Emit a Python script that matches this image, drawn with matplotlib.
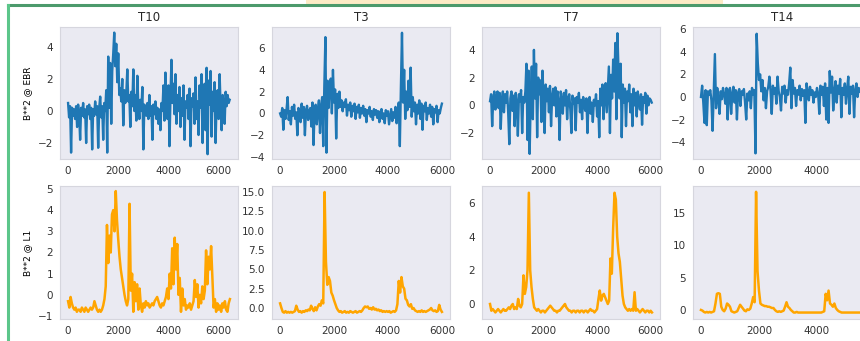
import numpy as np
import matplotlib
matplotlib.use("Agg")
import matplotlib.pyplot as plt
from matplotlib.patches import Rectangle
from matplotlib.lines import Line2D

TITLES = ["T10", "T3", "T7", "T14"]
ROW_LABELS = ["B**2 @ EBR", "B**2 @ L1"]
STEP_EBR = 40
STEP_L1 = 50

t10_ebr = [
    0.5, -0.4, 0.3, -2.6, 0.2, -0.3, 0.1, -0.5, 0.3, -1.0,
    0.4, -0.2, -1.8, 0.2, -0.3, 0.5, -0.4, 0.1, -2.0, 0.3,
    -0.2, 0.4, -0.5, 0.2, -2.4, 0.1, -0.3, 0.6, -0.2, 0.3,
    -2.3, 0.2, 0.9, -0.4, 0.3, -1.8, 0.5, 0.0, 1.3, -2.6,
    3.4, 0.2, 3.0, -0.8, 2.5, 3.6, 4.9, 2.8, 4.2, 1.8,
    3.6, 1.0, 1.4, 0.6, 2.0, -0.9, 1.3, 0.5, 1.1, 2.6,
    0.6, 1.0, -1.0, 1.2, 0.3, 2.6, 0.0, 1.0, -0.6, 2.2,
    0.3, -0.5, 0.7, 0.0, 1.5, -2.4, 0.4, 0.0, -0.3, 0.5,
    -0.5, 1.0, -0.3, 0.3, -1.8, 0.4, -0.2, 0.6, -0.5, 0.2,
    -0.8, 0.1, -1.2, 0.5, 0.0, 1.6, -0.6, 2.4, 0.2, -0.5,
    1.6, -2.2, 0.8, 3.2, 0.5, 1.7, -0.2, 2.3, -0.8, 1.0,
    0.0, 1.5, -1.0, 0.8, -0.3, 1.6, -1.8, 0.6, 0.2, 1.0,
    -0.5, 1.4, -2.2, 0.8, 0.3, 1.1, -0.8, 2.1, -0.5, 0.6,
    -1.5, 1.6, 0.2, 2.3, -2.0, 0.8, 1.7, -1.2, 2.7, -2.7,
    1.9, 0.4, 2.5, -1.6, 1.2, 0.0, 1.8, -2.0, 0.7, 1.3,
    -0.5, 2.3, 0.2, -1.2, 1.0, 0.4, -0.8, 1.2, 0.3, 1.0, 0.5, 0.7,
]
t3_ebr = [
    0.0, -0.3, 0.5, -1.5, 0.3, -0.5, 0.4, 1.5, -0.6, 0.2,
    -1.0, 0.6, -0.2, 0.8, -0.5, 0.1, -2.0, 0.5, 0.2, -0.8,
    0.9, -0.4, 0.6, -2.0, 0.3, 0.7, -0.6, 0.2, 0.5, -1.2,
    1.0, -2.9, 0.4, 0.8, -1.0, 0.3, 1.2, -1.8, 0.6, 1.5,
    -3.0, 2.5, 7.0, -3.6, 3.0, 0.5, 2.6, 3.2, 0.0, 4.0,
    1.0, 2.2, -2.3, 1.8, 0.5, 2.0, 0.6, 1.2, 0.2, 1.0,
    0.6, 1.3, -0.2, 0.8, 0.3, 1.0, -0.3, 0.7, 0.2, 0.9,
    -0.5, 0.6, 0.1, 0.8, -0.4, 0.5, 0.0, 0.7, -0.2, 0.4,
    -0.8, 0.3, 0.0, 0.6, -0.3, 0.2, -0.6, 0.4, -0.1, 0.3,
    -0.4, 0.2, -0.8, 0.1, 0.4, -0.5, 0.0, -0.9, 0.3, -0.2,
    0.2, -1.0, -0.3, 0.4, -0.7, 0.1, -0.4, 0.6, -0.9, 0.0,
    1.0, -3.0, 2.5, 7.4, 1.0, 4.0, -0.5, 2.0, 0.3, 3.0,
    0.6, 4.2, -0.3, 1.5, 0.2, 1.0, -1.0, 0.8, 0.0, 1.2,
    -0.5, 0.9, -1.5, 0.7, 0.2, 1.0, -0.6, 0.5, 0.0, 0.8,
    -0.3, 0.6, -1.0, 0.4, 0.1, 0.7, -0.8, 0.3, 0.0, 0.5,
    0.9,
]
t7_ebr = [
    0.3, 0.8, -1.5, 0.5, 1.0, -0.3, 0.6, 1.0, -0.2, 0.9,
    -1.7, 0.4, 1.0, -0.5, 0.8, 0.2, 1.0, -0.6, -2.8, 0.5,
    1.0, -0.4, 0.7, -1.5, 0.9, 0.2, -2.2, 0.8, 0.3, 1.1,
    -2.0, 0.6, 0.2, 1.0, 3.0, -2.5, 2.5, -3.5, 0.5, 2.8,
    -1.0, 4.0, 0.5, 3.0, -2.3, 2.0, 0.8, 1.8, -1.2, 2.5,
    0.5, -2.0, 1.5, 0.3, 1.2, -0.5, 1.4, -1.5, 0.6, 1.2,
    0.0, 1.3, -0.8, 1.0, 0.2, -2.5, 1.0, 0.4, -0.6, 0.9,
    0.0, 1.1, -1.0, 0.5, 0.8, -0.3, -2.0, 0.7, 0.1, 0.5,
    -1.8, 0.6, 0.2, 0.9, -0.5, 0.4, -1.0, 0.6, 0.0, -0.4,
    0.5, -2.0, 0.3, 0.6, -0.6, 0.2, -1.2, 0.4, 0.0, 0.8,
    -0.8, 0.3, -2.3, 1.2, 0.0, 1.5, -1.0, 0.8, 1.6, -0.5,
    1.2, 2.8, -2.0, 2.2, 0.5, 3.3, 1.0, 4.5, -1.0, 5.2,
    2.5, 0.5, 3.0, -2.3, 1.5, 0.2, 1.2, -1.5, 1.0, 0.3,
    1.5, -0.5, 0.8, -1.5, 1.2, 0.0, 0.9, -0.8, 1.0, 0.3,
    -0.3, 0.8, -1.4, 0.6, 0.2, 0.9, -0.6, 0.7, 0.0, 0.5,
    0.4, 0.2,
]
t14_ebr = [
    0.0, 1.0, -0.5, -2.3, 0.6, -2.5, 0.5, 0.2, 0.6, -0.3,
    -3.0, 0.4, 3.8, -1.0, 0.8, 0.0, -1.5, 0.5, -0.2, 0.8,
    0.2, -0.6, 0.8, -2.0, 0.5, 0.8, -1.5, 0.3, 0.9, -0.5,
    0.6, -2.0, 0.4, 0.7, -0.8, 0.5, 0.2, 0.7, -0.5, -2.0,
    0.3, -0.3, 0.5, -1.0, 0.8, 0.2, 0.6, -5.0, 5.6, 3.0,
    1.5, 2.0, 0.5, 1.5, -0.3, 0.8, -1.0, 0.5, 0.9, 1.8,
    0.5, -1.5, 1.0, 0.3, 0.8, -0.6, 1.8, 0.5, 0.0, -1.2,
    0.9, 0.3, 1.0, -0.5, 0.6, 0.2, 1.2, 2.6, -1.0, 1.5,
    0.3, 0.8, -0.8, 0.6, 0.2, 1.0, -0.3, 0.7, 0.1, 0.6,
    -2.3, 1.2, 0.5, -0.3, 0.9, 0.2, 0.6, -0.5, 0.4, 0.0,
    0.8, 0.3, -1.5, 1.0, 0.2, 0.9, -0.8, 1.2, -2.0, 0.8,
    -2.3, 2.3, 0.4, 1.8, -1.2, 0.5, 1.4, -0.5, 1.0, 0.3,
    1.6, -1.8, 0.8, 0.2, 1.2, -0.6, 0.7, 1.8, -1.5, 0.9,
    0.3, 1.0, -1.8, 0.6, 1.2, 0.0, 0.8, 0.5,
]

t10_l1 = [
    -0.3, -0.6, -0.1, -0.4, -0.6, -0.7, -0.6, -0.8, -0.7, -0.7,
    -0.8, -0.6, -0.7, -0.8, -0.6, -0.7, -0.8, -0.7, -0.6, -0.7,
    -0.6, -0.3, -0.5, -0.7, -0.8, -0.7, -0.8, -0.7, -0.5, -0.2,
    0.4, 3.3, 1.5, 2.8, 2.0, 3.8, 4.0, 3.0, 4.9, 3.5,
    2.6, 1.8, 1.2, 0.8, 0.4, 0.0, -0.3, -0.5, -0.2, 4.3,
    0.2, 1.0, -0.8, 0.6, -0.3, 0.5, -0.7, 0.3, -0.5, -0.8,
    -0.4, -0.6, -0.3, -0.5, -0.4, -0.6, -0.5, -0.4, -0.5, -0.3,
    -0.2, -0.1, -0.3, -0.5, -0.6, -0.4, -0.5, -0.3, -0.1, 0.3,
    -0.2, 1.0, 0.3, 2.2, 0.5, 2.7, 1.2, 2.4, 0.0, 0.8,
    -0.8, 0.3, -0.5, -0.2, -0.7, -0.5, -0.6, -0.4, -0.7, -0.5,
    -0.3, 0.7, -0.1, 0.5, -0.6, 0.0, -0.4, 0.4, -0.2, 0.2,
    2.1, 0.5, 1.8, 1.2, 2.3, 0.8, -0.6, -0.2, -0.8, -0.4,
    -0.7, -0.5, -0.8, -0.4, -0.6, -0.3, -0.7, -0.8, -0.4, -0.2,
]
t3_l1 = [
    0.6, 0.0, -0.5, -0.6, -0.4, -0.6, -0.5, -0.6, -0.5, -0.6,
    -0.5, -0.4, 0.3, -0.2, -0.5, -0.4, -0.6, -0.4, -0.5, -0.3,
    -0.4, -0.2, -0.3, 0.3, -0.1, -0.4, 0.1, -0.3, 0.2, 0.5,
    0.3, 1.0, 0.6, 15.0, 6.0, 3.0, 4.0, 3.5, 2.0, 1.6,
    1.0, 0.5, 0.0, -0.3, -0.5, -0.4, -0.6, -0.5, -0.4, -0.6,
    -0.5, -0.6, -0.4, -0.5, -0.6, -0.5, -0.4, -0.6, -0.5, -0.4,
    -0.5, -0.3, 0.0, 0.2, 0.1, 0.2, -0.1, 0.0, -0.2, 0.1,
    -0.2, -0.1, -0.3, -0.2, -0.4, -0.3, -0.5, -0.4, -0.5, -0.4,
    -0.5, -0.4, -0.6, -0.5, -0.4, -0.5, -0.3, 0.5, 3.5, 2.0,
    4.0, 2.8, 2.5, 1.2, 1.0, 0.4, 0.2, 0.5, -0.1, 0.0,
    -0.3, -0.4, -0.5, -0.4, -0.5, -0.3, -0.5, -0.4, -0.5, -0.4,
    -0.3, -0.2, 0.0, -0.3, -0.4, -0.3, -0.5, -0.4, 0.4, -0.2,
    -0.5,
]
t7_l1 = [
    0.0, -0.4, -0.3, -0.4, -0.5, -0.4, -0.3, -0.4, -0.5, -0.4,
    -0.3, -0.4, -0.4, -0.3, -0.2, -0.3, -0.1, 0.0, -0.3, -0.2,
    -0.3, 0.3, -0.1, -0.2, 0.0, 1.7, 0.6, 1.0, 2.0, 6.6,
    2.0, 1.0, 0.3, -0.2, -0.3, -0.4, -0.3, -0.4, -0.5, -0.4,
    -0.4, -0.5, -0.4, -0.3, -0.2, -0.1, -0.2, -0.3, -0.4, -0.4,
    -0.5, -0.4, -0.4, -0.3, -0.2, -0.1, 0.0, -0.2, -0.3, -0.4,
    -0.4, -0.5, -0.4, -0.4, -0.5, -0.4, -0.4, -0.5, -0.4, -0.4,
    -0.5, -0.4, -0.4, -0.5, -0.4, -0.3, -0.4, -0.4, -0.5, -0.4,
    -0.3, 0.3, 0.8, 0.2, 0.5, 0.6, 0.4, 0.2, 0.0, 0.2,
    2.7, 1.8, 4.5, 6.6, 6.2, 4.0, 3.0, 2.5, 1.5, 0.5,
    0.0, -0.2, -0.3, -0.4, -0.3, -0.4, -0.3, -0.4, 0.7, -0.4,
    -0.3, -0.4, -0.5, -0.4, -0.3, -0.4, -0.5, -0.4, -0.4, -0.5,
    -0.4, -0.5,
]
t14_l1 = [
    0.0, -0.1, -0.3, -0.4, -0.3, -0.4, -0.3, -0.4, -0.3, -0.2,
    1.0, 2.5, 2.6, 2.5, 0.5, 0.0, -0.2, 0.2, 1.0, 0.8,
    0.5, -0.2, -0.3, -0.4, -0.3, -0.2, 0.3, 0.8, 0.5, 0.2,
    -0.1, -0.2, 0.1, 0.0, 0.2, 1.0, 2.0, 1.2, 18.3, 6.0,
    3.0, 1.0, 0.8, 0.7, 0.6, 0.6, 0.5, 0.5, 0.4, 0.3,
    0.3, 0.0, -0.2, -0.3, -0.2, -0.3, -0.2, -0.1, 0.5, 1.2,
    0.5, 0.3, 0.0, -0.2, -0.4, -0.4, -0.3, -0.4, -0.4, -0.4,
    -0.4, -0.4, -0.4, -0.4, -0.4, -0.4, -0.4, -0.4, -0.4, -0.4,
    -0.4, -0.4, -0.4, -0.4, -0.3, -0.2, 2.5, 1.5, 3.0, 1.0,
    0.8, 0.5, 1.0, 0.3, 0.0, -0.2, -0.3, -0.4, -0.4, -0.4,
    -0.4, -0.4, -0.4, -0.4, -0.4, -0.4, -0.4, -0.4, -0.4, -0.4,
    -0.4,
]

EBR = [t10_ebr, t3_ebr, t7_ebr, t14_ebr]
L1 = [t10_l1, t3_l1, t7_l1, t14_l1]

# axis limits
XLIM = [(-322, 6772), (-300, 6300), (-300, 6350), (-275, 5863)]
YLIM_EBR = [(-3.0, 5.25), (-4.18, 7.93), (-3.87, 5.65), (-5.5, 6.2)]
YLIM_L1 = [(-1.14, 5.14), (-1.42, 15.78), (-0.89, 7.0), (-1.4, 19.2)]
YTICKS_EBR = [[-2, 0, 2, 4], [-4, -2, 0, 2, 4, 6], [-2, 0, 2, 4], [-4, -2, 0, 2, 4, 6]]
YTICKS_L1 = [[-1, 0, 1, 2, 3, 4, 5], [0, 2.5, 5, 7.5, 10, 12.5, 15], [0, 2, 4, 6], [0, 5, 10, 15]]
# last column is cut off at the right edge in the screenshot, 6000 not visible
XTICKS = [[0, 2000, 4000, 6000]] * 3 + [[0, 2000, 4000]]

W, H = 860, 341
LEFTS = [60, 272, 482, 693]
AX_W = 178
ROWS = [(27, 159), (186, 319)]

plt.rcParams.update({
    "font.family": "DejaVu Sans",
    "axes.facecolor": "#EAEAF2",
    "text.color": "#262626",
    "xtick.color": "#333333",
    "ytick.color": "#333333",
})


def style_axes(ax):
    for s in ax.spines.values():
        s.set_color("#d6d6de")
        s.set_linewidth(0.8)
    ax.tick_params(length=0, labelsize=7.5, pad=5)


def main():
    fig = plt.figure(figsize=(W / 100, H / 100), dpi=100)

    for r, (top, bot) in enumerate(ROWS):
        for c in range(4):
            rect = [LEFTS[c] / W, 1 - bot / H, AX_W / W, (bot - top) / H]
            ax = fig.add_axes(rect)
            style_axes(ax)
            if r == 0:
                y = EBR[c]
                x = np.arange(len(y)) * STEP_EBR
                ax.plot(x, y, color="#1f77b4", lw=1.7)
                ax.set_ylim(*YLIM_EBR[c])
                ax.set_yticks(YTICKS_EBR[c])
                ax.set_title(TITLES[c], fontsize=8.5, pad=4)
            else:
                y = L1[c]
                x = np.arange(len(y)) * STEP_L1
                ax.plot(x, y, color="orange", lw=1.8)
                ax.set_ylim(*YLIM_L1[c])
                ax.set_yticks(YTICKS_L1[c])
            ax.set_xlim(*XLIM[c])
            ax.set_xticks(XTICKS[c])
            if c == 0:
                ax.set_ylabel(ROW_LABELS[r], fontsize=6.5, labelpad=4)

    # notebook cell frame (green borders, yellow bar)
    fig.add_artist(Rectangle((306 / W, 1 - 4 / H), (723 - 306) / W, 4 / H,
                             transform=fig.transFigure, color="#fdebc6", lw=0))
    fig.add_artist(Line2D([8 / W, 1], [1 - 5 / H] * 2, transform=fig.transFigure,
                          color="#4c9a6c", lw=2.2))
    fig.add_artist(Line2D([8 / W] * 2, [1 - 5 / H, 0], transform=fig.transFigure,
                          color="#5cc68a", lw=2.2))

    fig.savefig("out.png", dpi=100)
    plt.close(fig)


if __name__ == "__main__":
    main()
